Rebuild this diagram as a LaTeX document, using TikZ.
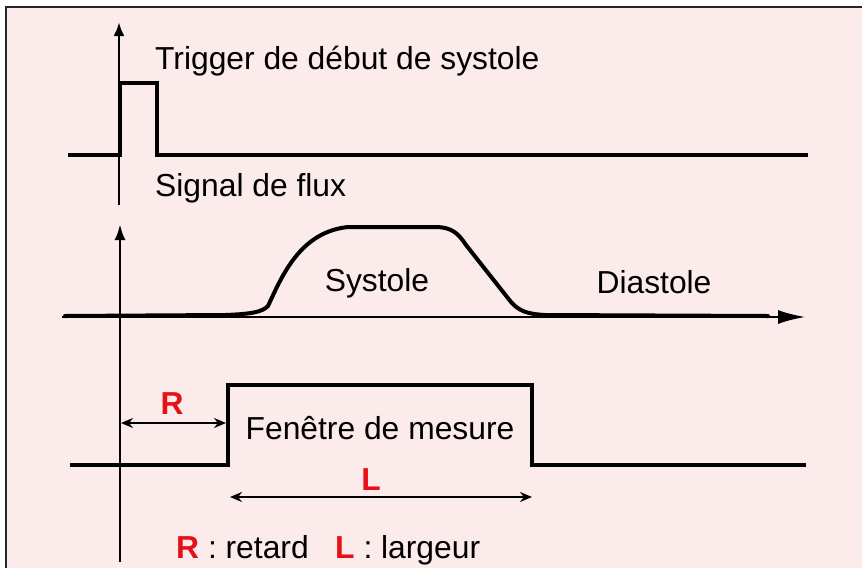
\documentclass[tikz,border=0pt]{standalone}
\usepackage{fontspec}
\setmainfont{Liberation Sans}
\usetikzlibrary{arrows.meta}
\definecolor{bgpink}{RGB}{252,235,235}
\definecolor{labred}{RGB}{232,16,24}
\tikzset{
  axisline/.style={line width=2.9pt, black},
  sigline/.style={line width=4pt, black, line join=miter},
  lbl/.style={font=\fontsize{31.8}{36}\selectfont, inner sep=0pt},
  redlbl/.style={font=\fontsize{31.8}{36}\selectfont\bfseries, text=labred, inner sep=0pt},
  dimarrow/.style={line width=2.6pt, {Stealth[length=12pt,width=10pt]}-{Stealth[length=12pt,width=10pt]}}
}
\begin{document}
\begin{tikzpicture}[x=1pt,y=-1pt]
\useasboundingbox (0,0) rectangle (862,568);
\fill[white] (0,0) rectangle (862,568);
\fill[bgpink] (6,7) rectangle (862,568);
\draw[line width=1.8pt, black!85] (6,568) -- (6,7) -- (862,7);

% ---- top: trigger ----
\coordinate (a1b) at (119,205);
\coordinate (a1t) at (119,22);
\draw[axisline, -{Latex[length=14pt,width=11pt]}] (a1b) -- (a1t);
\draw[sigline] (68,155) -- (120,155) -- (120,83) -- (157,83) -- (157,155) -- (808,155);
\node[lbl, anchor=west] (trig) at (155,61) {Trigger de début de systole};
\node[lbl, anchor=west] (flux) at (155,188) {Signal de flux};

% ---- middle: flow ----
\coordinate (a2b) at (120,562);
\coordinate (a2t) at (120,224);
\draw[axisline, -{Latex[length=16pt,width=11pt]}] (a2b) -- (a2t);
\coordinate (hx0) at (62,317);
\coordinate (hx1) at (806,317);
\draw[axisline, -{Latex[length=28pt,width=14pt]}] (hx0) -- (hx1);
\draw[line width=4pt, line cap=round, line join=round]
  (65,316) -- (225,315) .. controls (252,314) and (262,312) .. (268,306)
  .. controls (282,276) and (300,232) .. (348,227) -- (438,227)
  .. controls (452,228) and (458,233) .. (466,245) -- (511,302)
  .. controls (519,311) and (527,314) .. (545,315) -- (768,316);
\node[lbl] (sys) at (377,283) {Systole};
\node[lbl] (dia) at (654,282) {Diastole};

% ---- bottom: window ----
\draw[sigline] (70,465) -- (228,465) -- (228,385) -- (532,385) -- (532,465) -- (806,465);
\node[lbl] (fen) at (380,428) {Fenêtre de mesure};
\coordinate (r0) at (121,423);
\coordinate (r1) at (226,423);
\draw[dimarrow] (r0) -- (r1);
\node[redlbl] (Rlab) at (172,404) {R};
\coordinate (l0) at (230,497);
\coordinate (l1) at (532,497);
\draw[dimarrow] (l0) -- (l1);
\node[redlbl] (Llab) at (371,480) {L};
\node[lbl, anchor=west] (legend) at (176,550) {\textcolor{labred}{\bfseries R} : retard\ \ \ \textcolor{labred}{\bfseries L} : largeur};
\end{tikzpicture}
\end{document}
